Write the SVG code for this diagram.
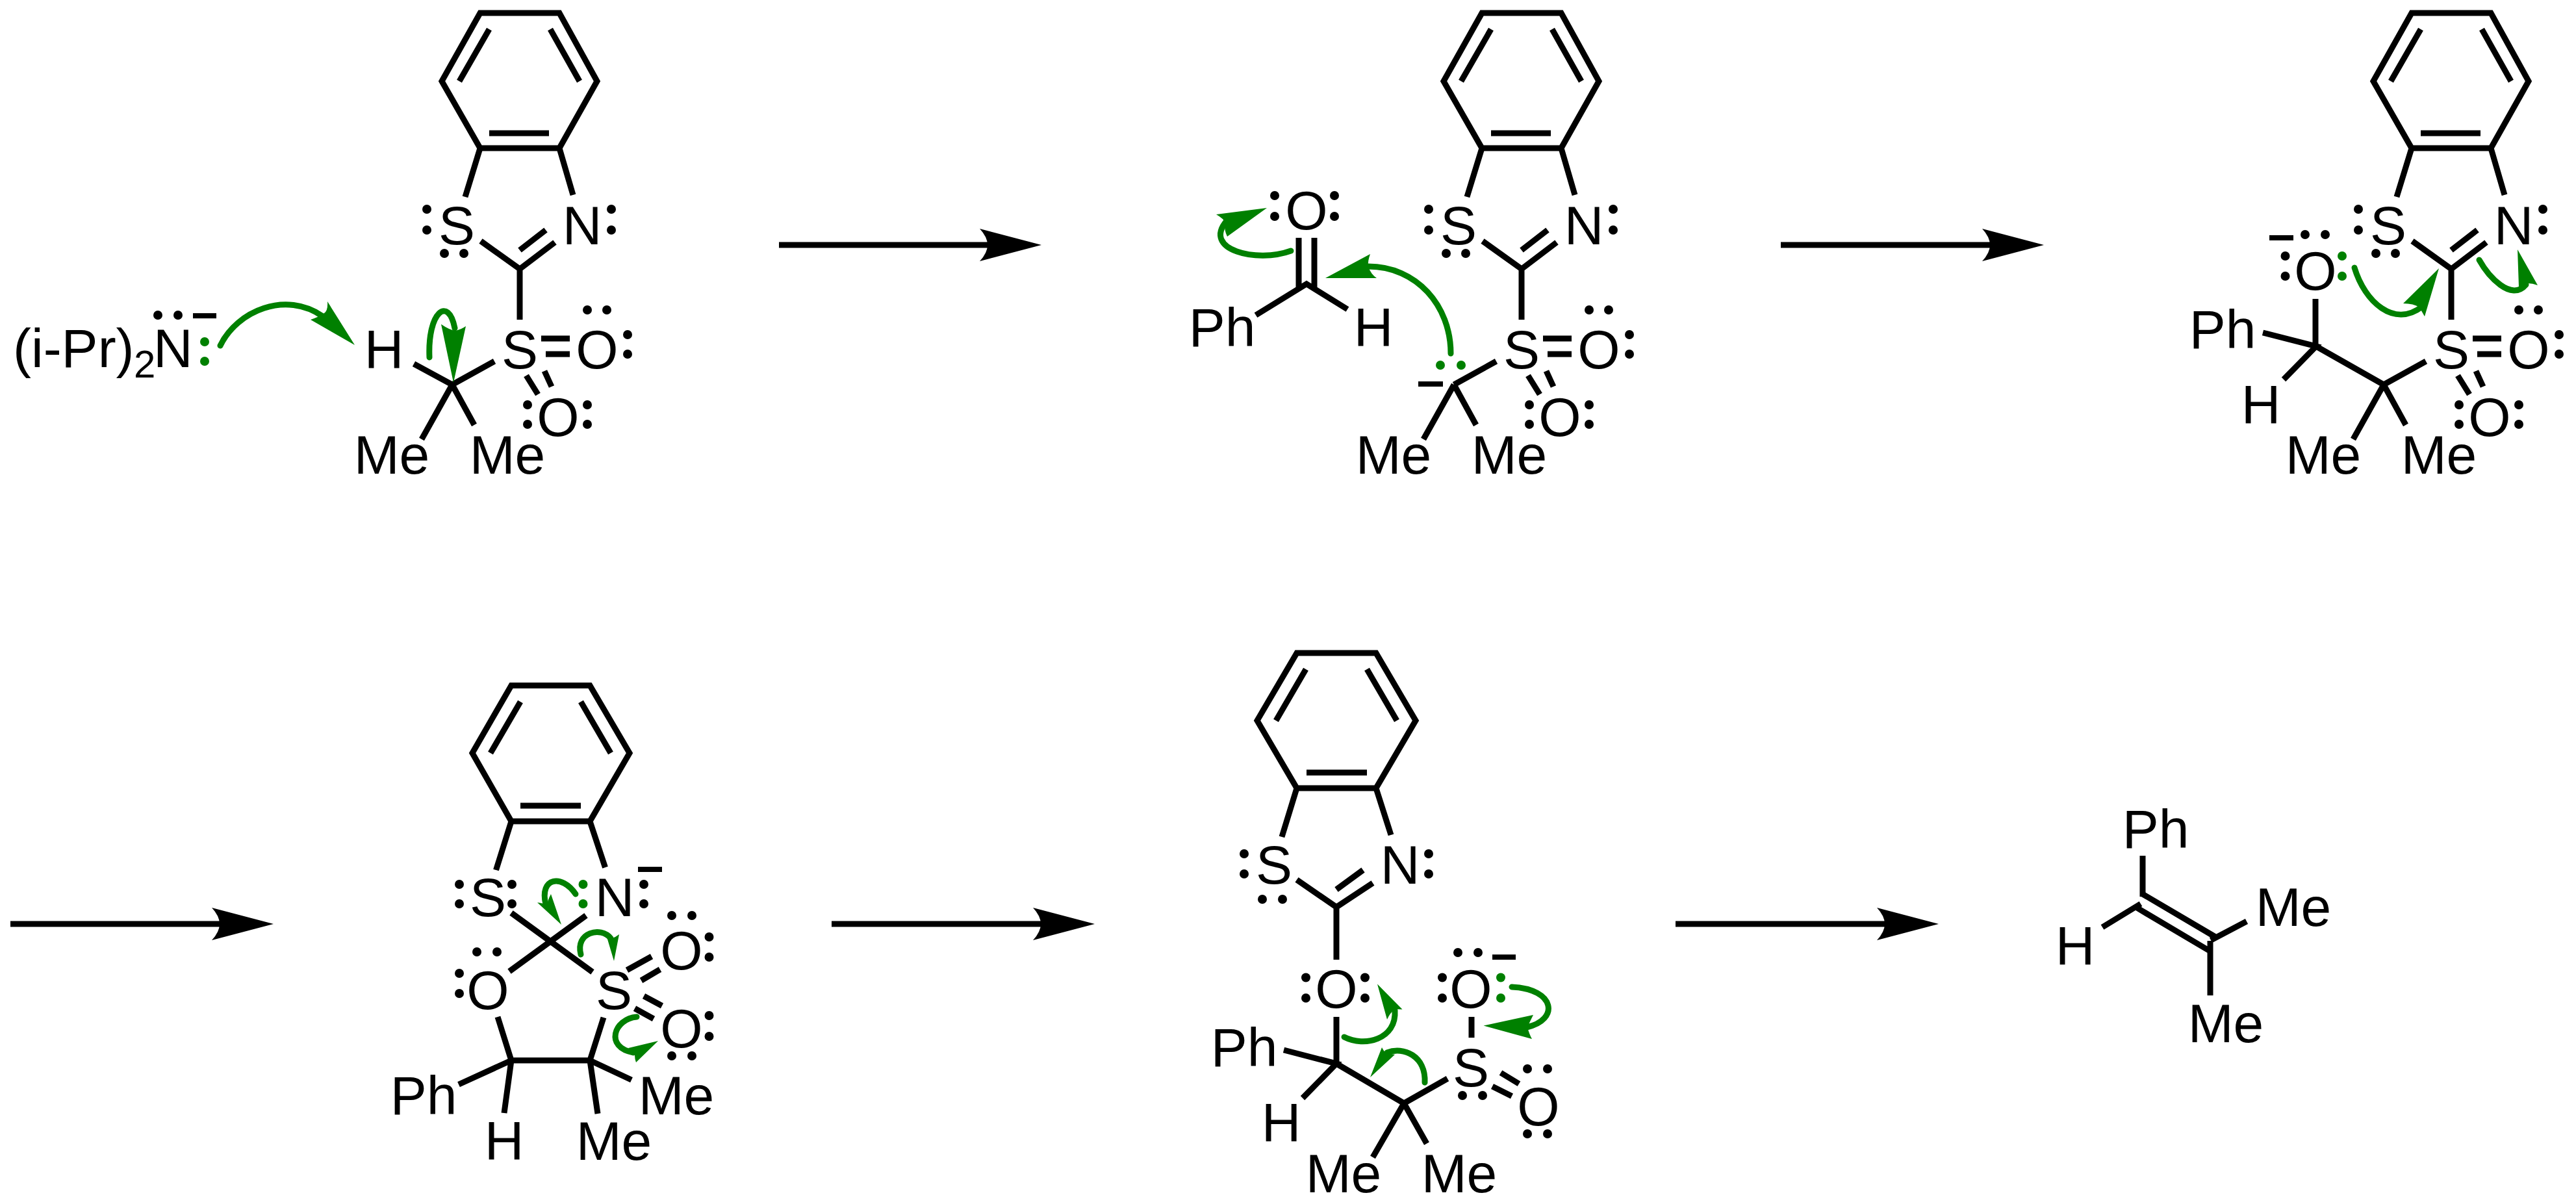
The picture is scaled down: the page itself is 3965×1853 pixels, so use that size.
<svg xmlns="http://www.w3.org/2000/svg" width="3965" height="1853" viewBox="0 0 3965 1853">
<style>
.b{fill:none;stroke:#000;stroke-width:9;stroke-linejoin:miter;stroke-linecap:butt}
.t{font-family:"Liberation Sans",Arial,sans-serif;font-size:84px;fill:#000;text-anchor:middle}
.s{font-size:60px}
.d{fill:#000}
.gd{fill:#008000}
.c{fill:none;stroke:#008000;stroke-width:9;stroke-linecap:round}
.h{fill:#008000}
.r{stroke:#000;stroke-width:9;fill:none}
</style>
<defs>
<marker id="ah" markerUnits="userSpaceOnUse" markerWidth="100" markerHeight="60" viewBox="-100 -30 100 60" refX="-83" refY="0" orient="auto" overflow="visible"><path d="M0,0L-95,-25Q-83,-12 -83,0Q-83,12 -95,25Z" fill="#000"/></marker>
</defs>
<rect width="3965" height="1853" fill="#fff"/>

<g id="mol1">
<path class="b" d="M739,20H861L919,125L861,228H739L680,125Z"/>
<path class="b" d="M753,45L707,125M847,45L892,125M753,205H845M739,228L716,303M861,228L882,300M740,371L800,414L854,373M800,385L840,354M800,414V492M696,592L761,556M696,592L637,560M696,592L649,676M696,592L730,654M833,521H877M840,545H877M810,578L828,607M838,571L849,595"/>
<text class="t" x="703" y="376">S</text><text class="t" x="896" y="376">N</text><text class="t" x="800" y="567">S</text><text class="t" x="919" y="567">O</text><text class="t" x="859" y="671">O</text>
<text class="t" x="603" y="729">Me</text><text class="t" x="781" y="729">Me</text><text class="t" x="591" y="567">H</text>
<text class="t" x="20" y="565" style="text-anchor:start">(i-Pr)</text><text class="t s" x="206" y="581" style="text-anchor:start">2</text><text class="t" x="236" y="565" style="text-anchor:start">N</text>
<g class="d"><circle cx="657" cy="322" r="7"/><circle cx="657" cy="354" r="7"/><circle cx="684" cy="390" r="7"/><circle cx="714" cy="390" r="7"/><circle cx="941" cy="322" r="7"/><circle cx="941" cy="354" r="7"/><circle cx="904" cy="477" r="7"/><circle cx="934" cy="477" r="7"/><circle cx="966" cy="515" r="7"/><circle cx="966" cy="545" r="7"/><circle cx="812" cy="623" r="7"/><circle cx="812" cy="653" r="7"/><circle cx="904" cy="623" r="7"/><circle cx="904" cy="653" r="7"/><circle cx="243" cy="485" r="7"/><circle cx="274" cy="485" r="7"/></g>
<path class="b" style="stroke-width:8" d="M297,486H333"/>
<circle class="gd" cx="315" cy="526" r="7"/><circle class="gd" cx="315" cy="556" r="7"/>
</g>

<g id="mol2">
<g transform="translate(1542 0)">
<path class="b" d="M739,20H861L919,125L861,228H739L680,125Z"/>
<path class="b" d="M753,45L707,125M847,45L892,125M753,205H845M739,228L716,303M861,228L882,300M740,371L800,414L854,373M800,385L840,354M800,414V492M696,592L761,556M696,592L649,676M696,592L730,654M833,521H877M840,545H877M810,578L828,607M838,571L849,595"/>
<text class="t" x="703" y="376">S</text><text class="t" x="896" y="376">N</text><text class="t" x="800" y="567">S</text><text class="t" x="919" y="567">O</text><text class="t" x="859" y="671">O</text>
<text class="t" x="603" y="729">Me</text><text class="t" x="781" y="729">Me</text>
<g class="d"><circle cx="657" cy="322" r="7"/><circle cx="657" cy="354" r="7"/><circle cx="684" cy="390" r="7"/><circle cx="714" cy="390" r="7"/><circle cx="941" cy="322" r="7"/><circle cx="941" cy="354" r="7"/><circle cx="904" cy="477" r="7"/><circle cx="934" cy="477" r="7"/><circle cx="966" cy="515" r="7"/><circle cx="966" cy="545" r="7"/><circle cx="812" cy="623" r="7"/><circle cx="812" cy="653" r="7"/><circle cx="904" cy="623" r="7"/><circle cx="904" cy="653" r="7"/></g>
</g>
<path class="b" style="stroke-width:8" d="M2183,591H2221"/>
<circle class="gd" cx="2217" cy="562" r="7"/><circle class="gd" cx="2249" cy="562" r="7"/>
<path class="b" d="M1999,366V447M2023,366V447M1933,485L2011,437L2074,476"/>
<text class="t" x="2011" y="353">O</text><text class="t" x="1881" y="533">Ph</text><text class="t" x="2114" y="533">H</text>
<g class="d"><circle cx="1962" cy="301" r="7"/><circle cx="1962" cy="333" r="7"/><circle cx="2054" cy="301" r="7"/><circle cx="2054" cy="333" r="7"/></g>
</g>

<g id="mol3">
<g transform="translate(2973 0)">
<path class="b" d="M739,20H861L919,125L861,228H739L680,125Z"/>
<path class="b" d="M753,45L707,125M847,45L892,125M753,205H845M739,228L716,303M861,228L882,300M740,371L800,414L854,373M800,385L840,354M800,414V492M696,592L761,556M696,592L649,676M696,592L730,654M833,521H877M840,545H877M810,578L828,607M838,571L849,595"/>
<text class="t" x="703" y="376">S</text><text class="t" x="896" y="376">N</text><text class="t" x="800" y="567">S</text><text class="t" x="919" y="567">O</text><text class="t" x="859" y="671">O</text>
<text class="t" x="603" y="729">Me</text><text class="t" x="781" y="729">Me</text>
<g class="d"><circle cx="657" cy="322" r="7"/><circle cx="657" cy="354" r="7"/><circle cx="684" cy="390" r="7"/><circle cx="714" cy="390" r="7"/><circle cx="941" cy="322" r="7"/><circle cx="941" cy="354" r="7"/><circle cx="904" cy="477" r="7"/><circle cx="934" cy="477" r="7"/><circle cx="966" cy="515" r="7"/><circle cx="966" cy="545" r="7"/><circle cx="812" cy="623" r="7"/><circle cx="812" cy="653" r="7"/><circle cx="904" cy="623" r="7"/><circle cx="904" cy="653" r="7"/></g>
</g>
<path class="b" d="M3564,460V533M3483,512L3565,533L3515,584M3565,533L3669,592"/>
<path class="b" style="stroke-width:8" d="M3493,366H3530"/>
<text class="t" x="3564" y="446">O</text><text class="t" x="3421" y="536">Ph</text><text class="t" x="3480" y="652">H</text>
<g class="d"><circle cx="3548" cy="361" r="7"/><circle cx="3579" cy="361" r="7"/><circle cx="3517.5" cy="394" r="7"/><circle cx="3517.5" cy="425" r="7"/></g>
<circle class="gd" cx="3605" cy="394" r="7"/><circle class="gd" cx="3605" cy="425" r="7"/>
</g>

<g id="mol4">
<path class="b" d="M787,1055H908L969,1159L908,1264H787L727,1159Z"/>
<path class="b" d="M801,1080L755,1159M894,1080L940,1159M801,1240H894M787,1264L763.5,1339M908,1264L931.5,1335M787,1405L912,1496M902,1409L784,1495M766,1565L787,1632H908L929,1566M787,1632L706,1669M787,1632L776,1713M908,1632L972,1662M908,1632L920,1714M965,1493L1003,1472M987,1509L1016,1492M991,1533L1019,1548M977,1552L1006,1568"/>
<path class="b" style="stroke-width:8" d="M982,1338H1019"/>
<text class="t" x="751" y="1410">S</text><text class="t" x="946" y="1410">N</text><text class="t" x="751" y="1553">O</text><text class="t" x="945" y="1553">S</text><text class="t" x="1049" y="1492">O</text><text class="t" x="1049" y="1612">O</text>
<text class="t" x="652" y="1715">Ph</text><text class="t" x="776" y="1785">H</text><text class="t" x="1041" y="1715">Me</text><text class="t" x="945" y="1785">Me</text>
<g class="d"><circle cx="707" cy="1361" r="7"/><circle cx="707" cy="1391" r="7"/><circle cx="788" cy="1361" r="7"/><circle cx="788" cy="1391" r="7"/><circle cx="991" cy="1361" r="7"/><circle cx="991" cy="1391" r="7"/><circle cx="734" cy="1465" r="7"/><circle cx="765" cy="1465" r="7"/><circle cx="707" cy="1498" r="7"/><circle cx="707" cy="1529" r="7"/><circle cx="1034" cy="1409" r="7"/><circle cx="1065" cy="1409" r="7"/><circle cx="1091.5" cy="1442" r="7"/><circle cx="1091.5" cy="1473" r="7"/><circle cx="1091.5" cy="1563" r="7"/><circle cx="1091.5" cy="1595" r="7"/><circle cx="1034" cy="1625" r="7"/><circle cx="1065" cy="1625" r="7"/></g>
<circle class="gd" cx="897.5" cy="1361" r="7"/><circle class="gd" cx="897.5" cy="1391" r="7"/>
</g>

<g id="mol5">
<path class="b" d="M1996,1005H2118L2179,1109L2118,1213H1996L1935,1109Z"/>
<path class="b" d="M2010,1030L1964,1109M2104,1030L2150,1109M2011,1189H2104M1996,1213L1973,1288M2118,1213L2141,1285M1996,1354L2057,1396L2113,1359M2057,1369L2098,1339M2057,1396V1477M2057,1565V1637M1976,1616L2057,1637L2005,1690M2057,1637L2161,1698L2228,1660M2161,1698L2113,1781M2161,1698L2196,1760M2265,1565V1597M2310,1651L2338,1668M2297,1672L2327,1687"/>
<path class="b" style="stroke-width:8" d="M2297,1473H2333"/>
<text class="t" x="1961" y="1360">S</text><text class="t" x="2155" y="1360">N</text><text class="t" x="2057" y="1551">O</text><text class="t" x="2264" y="1551">O</text><text class="t" x="2264" y="1672">S</text><text class="t" x="2368" y="1732">O</text>
<text class="t" x="1915" y="1641">Ph</text><text class="t" x="1972" y="1757">H</text><text class="t" x="2068" y="1835">Me</text><text class="t" x="2246" y="1835">Me</text>
<g class="d"><circle cx="1915" cy="1314" r="7"/><circle cx="1915" cy="1345" r="7"/><circle cx="1943" cy="1384" r="7"/><circle cx="1974" cy="1384" r="7"/><circle cx="2199" cy="1314" r="7"/><circle cx="2199" cy="1345" r="7"/><circle cx="2010" cy="1504.5" r="7"/><circle cx="2010" cy="1536" r="7"/><circle cx="2101" cy="1504.5" r="7"/><circle cx="2101" cy="1536" r="7"/><circle cx="2244" cy="1466" r="7"/><circle cx="2275" cy="1466" r="7"/><circle cx="2220" cy="1504.5" r="7"/><circle cx="2220" cy="1536" r="7"/><circle cx="2251" cy="1686" r="7"/><circle cx="2282" cy="1686" r="7"/><circle cx="2351" cy="1645" r="7"/><circle cx="2382" cy="1645" r="7"/><circle cx="2351" cy="1745" r="7"/><circle cx="2382" cy="1745" r="7"/></g>
<circle class="gd" cx="2310" cy="1504.5" r="7"/><circle class="gd" cx="2310" cy="1536" r="7"/>
</g>

<g id="mol6">
<path class="b" d="M3298,1317V1380M3298,1376L3410,1442M3289,1397L3402,1464M3402,1448V1532M3403,1447L3458,1418M3295,1391L3236,1427"/>
<text class="t" x="3318" y="1305">Ph</text><text class="t" x="3194" y="1485">H</text><text class="t" x="3530" y="1425">Me</text><text class="t" x="3426" y="1604">Me</text>
</g>

<g id="connectors">
<line class="r" x1="1199" y1="377" x2="1520" y2="377" marker-end="url(#ah)"/>
<line class="r" x1="2741" y1="377" x2="3063" y2="377" marker-end="url(#ah)"/>
<line class="r" x1="16" y1="1422" x2="338" y2="1422" marker-end="url(#ah)"/>
<line class="r" x1="1280" y1="1422" x2="1602" y2="1422" marker-end="url(#ah)"/>
<line class="r" x1="2579" y1="1422" x2="2901" y2="1422" marker-end="url(#ah)"/>

<path class="c" d="M339,532C365,478 440,447 497,487"/>
<path class="h" d="M546,531L504,464Q505,478 499,482Q490,488 478,492Z"/>
<path class="c" d="M661,550C658,480 690,455 700,505"/>
<path class="h" d="M698,589L679,499Q692,508 701,509Q710,507 717,502Z"/>

<path class="c" d="M1987,386C1935,405 1850,385 1888,340"/>
<path class="h" d="M1950,320L1872,330Q1884,337 1885,342Q1884,354 1889,364Z"/>
<path class="c" d="M2233,544C2233,470 2180,410 2106,410"/>
<path class="h" d="M2040,428L2109,391Q2105,402 2106,410Q2110,422 2119,428Z"/>

<path class="c" d="M3624,412C3640,465 3685,505 3728,472"/>
<path class="h" d="M3754,413L3699,467Q3715,467 3724,473Q3728,480 3732,487Z"/>
<path class="c" d="M3816,400C3830,425 3865,465 3888,438"/>
<path class="h" d="M3875,384L3877,442Q3886,441 3891,436Q3898,436 3906,439Z"/>

<path class="c" d="M886,1376C865,1345 830,1350 840,1392"/>
<path class="h" d="M864,1423L827,1389Q838,1390 842,1394Q843,1385 848,1376Z"/>
<path class="c" d="M894,1469C885,1435 925,1425 940,1444"/>
<path class="h" d="M945,1479L934,1442Q938,1446 942,1444Q948,1442 953,1438Z"/>
<path class="c" d="M980,1565C945,1568 930,1612 975,1620"/>
<path class="h" d="M1013,1602L967,1613Q972,1618 977,1624Q977,1630 979,1635Z"/>

<path class="c" d="M2069,1596C2100,1612 2150,1600 2147,1555"/>
<path class="h" d="M2120,1514.5L2135,1569Q2140,1558 2147,1553.5Q2152,1553 2158.5,1553.5Z"/>
<path class="c" d="M2193,1666C2195,1625 2160,1610 2135,1620"/>
<path class="h" d="M2109,1658L2127,1612Q2130,1618 2133,1620Q2140,1622 2147,1623Z"/>
<path class="c" d="M2327,1519C2395,1522 2400,1570 2350,1581"/>
<path class="h" d="M2283.5,1578.5L2360,1562Q2354,1574 2351,1581Q2354,1592 2358,1599Z"/>
</g>
</svg>
